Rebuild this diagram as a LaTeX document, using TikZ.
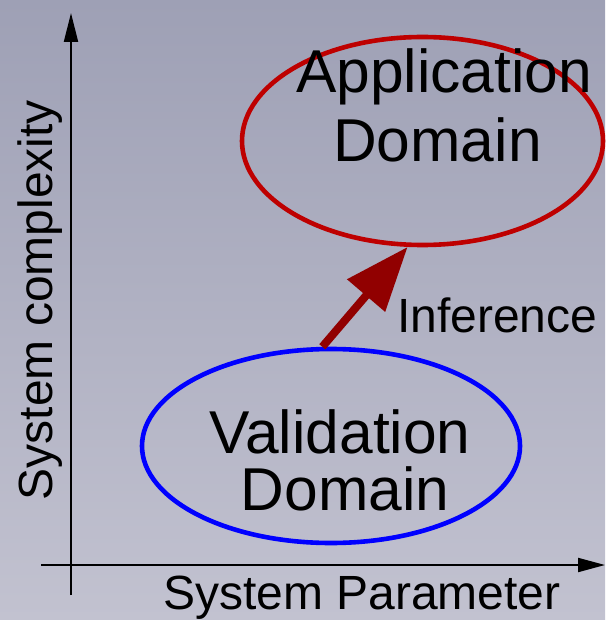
\documentclass[tikz,border=0pt]{standalone}
\usepackage{fontspec}
\setmainfont{Liberation Sans}
\usetikzlibrary{shapes.geometric,arrows.meta}
\definecolor{bgtop}{RGB}{158,160,181}
\definecolor{bgbot}{RGB}{194,194,208}
\definecolor{appred}{RGB}{190,0,0}
\definecolor{arrred}{RGB}{145,0,0}
\tikzset{
  axisline/.style={line width=2pt, black},
  domainbox/.style={shape=ellipse, inner sep=0pt, line width=4.6pt},
  bigtext/.style={font=\fontsize{60.5}{72}\selectfont, inner sep=0pt, anchor=base},
  lbltext/.style={font=\fontsize{48}{58}\selectfont, inner sep=0pt},
  infarrow/.style={line width=8pt, arrred, -{Triangle[length=64pt,width=48pt]}}
}
\begin{document}
\begin{tikzpicture}[x=1pt,y=-1pt]
\shade[top color=bgtop, bottom color=bgbot] (0,0) rectangle (605,620);
\useasboundingbox (0,0) rectangle (605,620);
% axes
\coordinate (yb) at (71,595);
\coordinate (yt) at (71,13);
\coordinate (xl) at (41,565);
\coordinate (xr) at (605,565);
\draw[axisline, -{Triangle[length=29pt,width=14pt]}] (yb) -- (yt);
\draw[axisline, -{Triangle[length=27pt,width=14pt]}] (xl) -- (xr);
% domains
\node[domainbox, draw=appred, minimum width=361pt, minimum height=208pt] (app) at (422.5,141) {};
\node[domainbox, draw=blue, minimum width=378pt, minimum height=194pt] (val) at (331,446) {};
\node[bigtext] (appt1) at (444,93) {Application};
\node[bigtext] (appt2) at (437.5,162) {Domain};
\node[bigtext] (valt1) at (340,453) {Validation};
\node[bigtext] (valt2) at (345,510) {Domain};
% inference
\draw[infarrow] (val.95) -- (app.262);
\node[lbltext, anchor=base west] (inf) at (397,332) {Inference};
% axis labels
\node[lbltext, anchor=base] (xlab) at (362,609) {System Parameter};
\node[lbltext, anchor=base, rotate=90] (ylab) at (52,300) {System complexity};
\end{tikzpicture}
\end{document}
